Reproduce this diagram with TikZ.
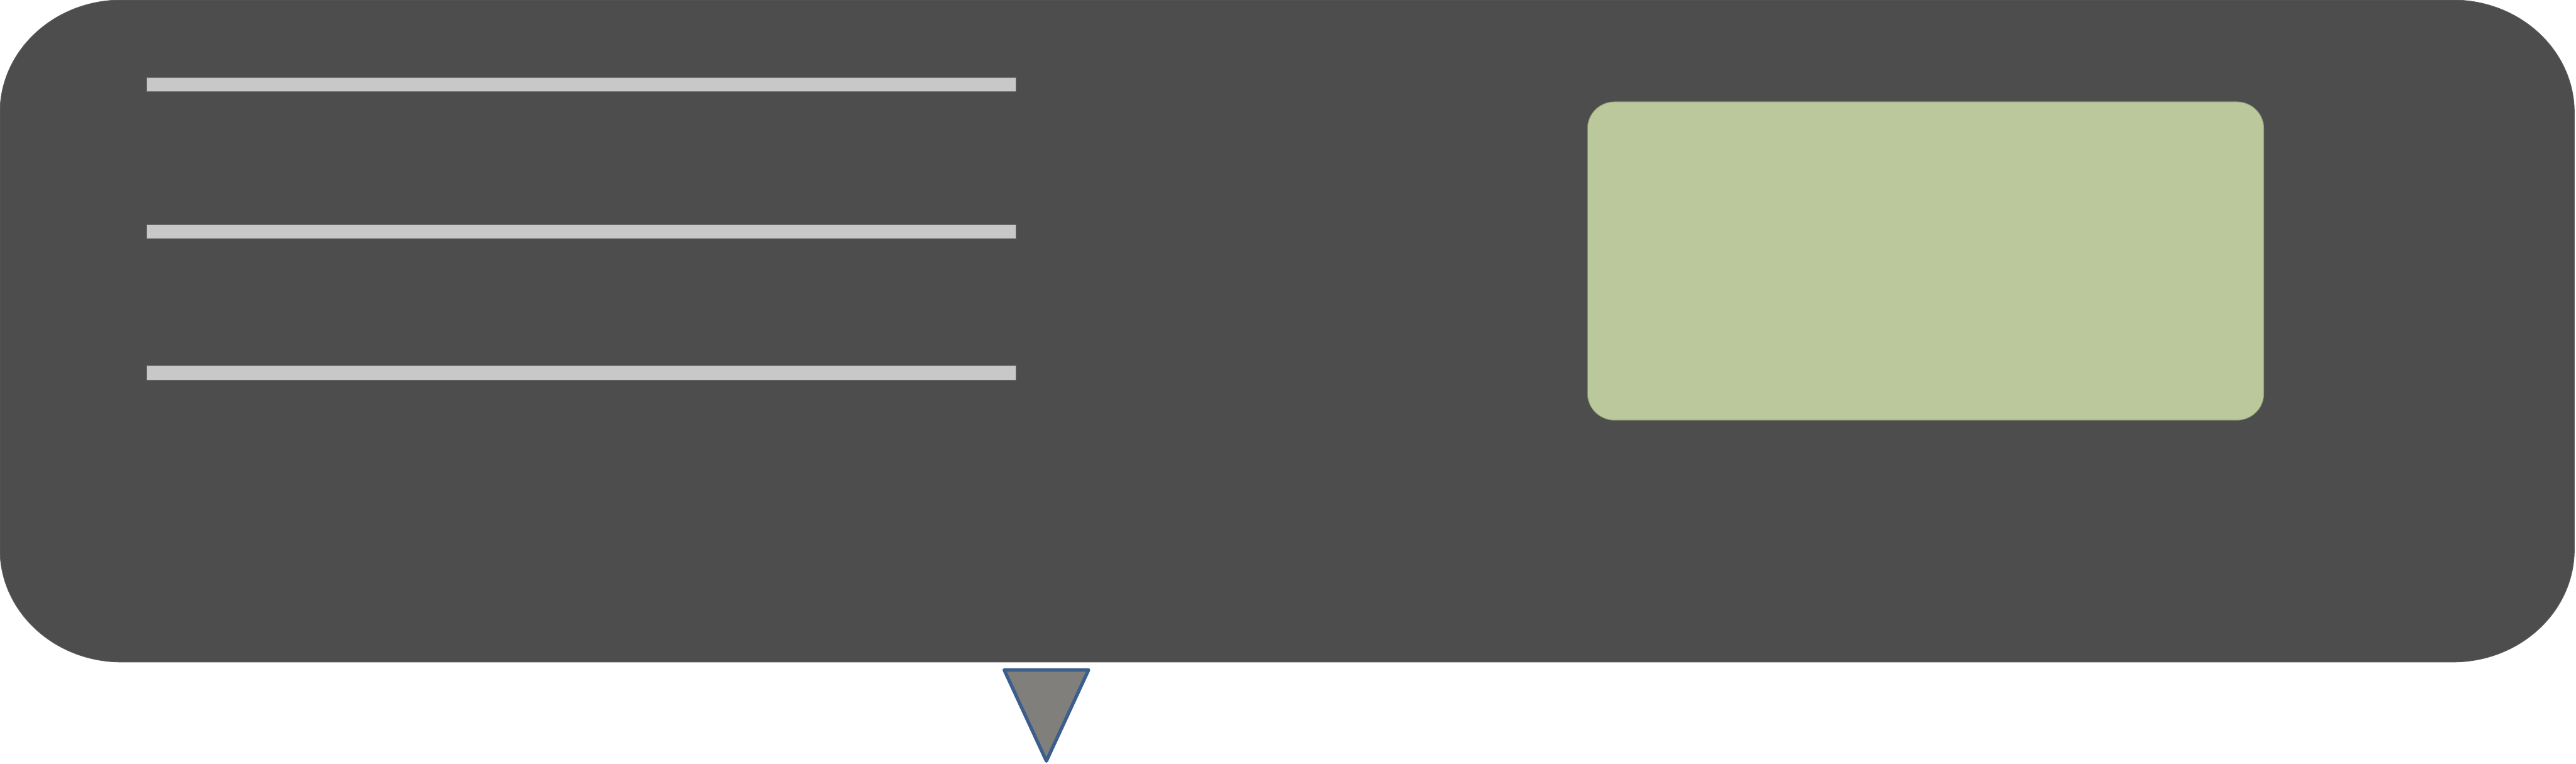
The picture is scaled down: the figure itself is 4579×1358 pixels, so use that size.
\documentclass[tikz,border=0pt]{standalone}
\usetikzlibrary{positioning}
\definecolor{casegray}{HTML}{4D4D4D}
\definecolor{caseedge}{HTML}{5C5C5C}
\definecolor{slotgray}{HTML}{C8C8C8}
\definecolor{slotedge}{HTML}{7A7A7A}
\definecolor{screengreen}{HTML}{BBC89C}
\definecolor{screenedge}{HTML}{8A9670}
\definecolor{tipgray}{HTML}{807F7B}
\definecolor{tipblue}{HTML}{3B5E8C}
\begin{document}
\begin{tikzpicture}[
  x=0.1mm,y=0.1mm,
  casebox/.style={fill=casegray,draw=caseedge,line width=0.3pt},
  slot/.style={rectangle,fill=slotgray,draw=slotedge,line width=0.3pt,
               minimum width=154.5mm,minimum height=2.5mm,inner sep=0pt},
  screen/.style={fill=screengreen,draw=screenedge,line width=0.3pt},
  pointer/.style={fill=tipgray,draw=tipblue,line width=1.7pt,line join=round},
  bigr/.style={x radius=216,y radius=200},
  smallr/.style={x radius=48,y radius=47},
]
\useasboundingbox (0,0) rectangle (4579,-1358);
% ---------- body ----------
\draw[casebox] (216,0) -- (4360,0)
  arc[start angle=90,end angle=0,bigr] -- (4576,-977)
  arc[start angle=0,end angle=-90,bigr] -- (216,-1177)
  arc[start angle=270,end angle=180,bigr] -- (0,-200)
  arc[start angle=180,end angle=90,bigr] -- cycle;
% ---------- slots ----------
\node[slot] (slot1) at (1033.5,-150) {};
\node[slot] (slot2) at (1033.5,-412) {};
\node[slot] (slot3) at (1033.5,-663) {};
% ---------- display ----------
\draw[screen] (2870,-181) -- (3976,-181)
  arc[start angle=90,end angle=0,smallr] -- (4024,-700)
  arc[start angle=0,end angle=-90,smallr] -- (2870,-747)
  arc[start angle=270,end angle=180,smallr] -- (2822,-228)
  arc[start angle=180,end angle=90,smallr] -- cycle;
% ---------- pointer ----------
\coordinate (tipl) at (1785,-1191);
\coordinate (tipr) at (1935,-1191);
\coordinate (tipb) at (1860,-1353);
\draw[pointer] (tipl) -- (tipr) -- (tipb) -- cycle;
\end{tikzpicture}
\end{document}
